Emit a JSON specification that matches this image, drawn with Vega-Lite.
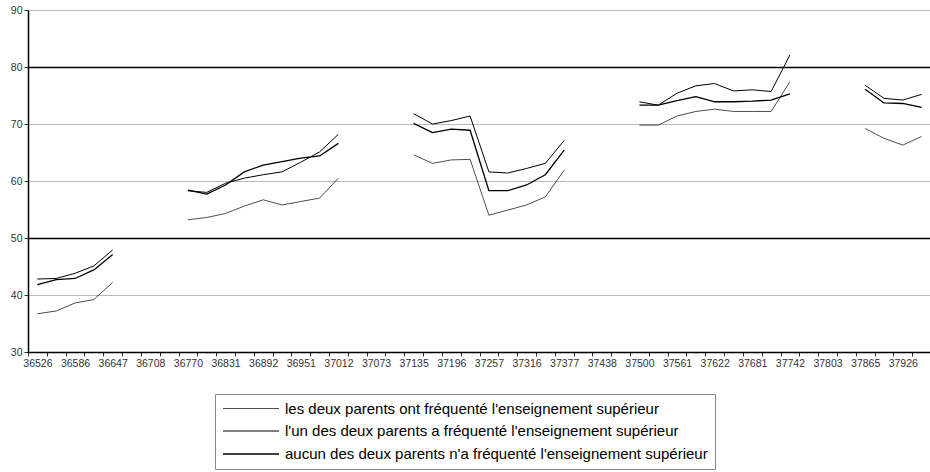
{
  "$schema": "https://vega.github.io/schema/vega-lite/v6.json",
  "width": 903,
  "height": 342,
  "autosize": {"type": "none"},
  "padding": {"left": 28, "top": 10, "right": 0, "bottom": 120},
  "background": "white",
  "config": {"view": {"stroke": null}, "font": "Liberation Sans"},
  "data": {"values": [
    {"mois": "36526", "g": 1, "serie": "les deux parents ont fréquenté l'enseignement supérieur", "v": 36.7},
    {"mois": "36557", "g": 1, "serie": "les deux parents ont fréquenté l'enseignement supérieur", "v": 37.2},
    {"mois": "36586", "g": 1, "serie": "les deux parents ont fréquenté l'enseignement supérieur", "v": 38.6},
    {"mois": "36617", "g": 1, "serie": "les deux parents ont fréquenté l'enseignement supérieur", "v": 39.2},
    {"mois": "36647", "g": 1, "serie": "les deux parents ont fréquenté l'enseignement supérieur", "v": 42.2},
    {"mois": "36770", "g": 2, "serie": "les deux parents ont fréquenté l'enseignement supérieur", "v": 53.2},
    {"mois": "36800", "g": 2, "serie": "les deux parents ont fréquenté l'enseignement supérieur", "v": 53.6},
    {"mois": "36831", "g": 2, "serie": "les deux parents ont fréquenté l'enseignement supérieur", "v": 54.3},
    {"mois": "36861", "g": 2, "serie": "les deux parents ont fréquenté l'enseignement supérieur", "v": 55.6},
    {"mois": "36892", "g": 2, "serie": "les deux parents ont fréquenté l'enseignement supérieur", "v": 56.7},
    {"mois": "36923", "g": 2, "serie": "les deux parents ont fréquenté l'enseignement supérieur", "v": 55.8},
    {"mois": "36951", "g": 2, "serie": "les deux parents ont fréquenté l'enseignement supérieur", "v": 56.4},
    {"mois": "36982", "g": 2, "serie": "les deux parents ont fréquenté l'enseignement supérieur", "v": 57.0},
    {"mois": "37012", "g": 2, "serie": "les deux parents ont fréquenté l'enseignement supérieur", "v": 60.5},
    {"mois": "37135", "g": 3, "serie": "les deux parents ont fréquenté l'enseignement supérieur", "v": 64.6},
    {"mois": "37165", "g": 3, "serie": "les deux parents ont fréquenté l'enseignement supérieur", "v": 63.1},
    {"mois": "37196", "g": 3, "serie": "les deux parents ont fréquenté l'enseignement supérieur", "v": 63.7},
    {"mois": "37226", "g": 3, "serie": "les deux parents ont fréquenté l'enseignement supérieur", "v": 63.8},
    {"mois": "37257", "g": 3, "serie": "les deux parents ont fréquenté l'enseignement supérieur", "v": 54.0},
    {"mois": "37288", "g": 3, "serie": "les deux parents ont fréquenté l'enseignement supérieur", "v": 54.9},
    {"mois": "37316", "g": 3, "serie": "les deux parents ont fréquenté l'enseignement supérieur", "v": 55.8},
    {"mois": "37347", "g": 3, "serie": "les deux parents ont fréquenté l'enseignement supérieur", "v": 57.2},
    {"mois": "37377", "g": 3, "serie": "les deux parents ont fréquenté l'enseignement supérieur", "v": 61.9},
    {"mois": "37500", "g": 4, "serie": "les deux parents ont fréquenté l'enseignement supérieur", "v": 69.8},
    {"mois": "37530", "g": 4, "serie": "les deux parents ont fréquenté l'enseignement supérieur", "v": 69.8},
    {"mois": "37561", "g": 4, "serie": "les deux parents ont fréquenté l'enseignement supérieur", "v": 71.4},
    {"mois": "37591", "g": 4, "serie": "les deux parents ont fréquenté l'enseignement supérieur", "v": 72.2},
    {"mois": "37622", "g": 4, "serie": "les deux parents ont fréquenté l'enseignement supérieur", "v": 72.6},
    {"mois": "37653", "g": 4, "serie": "les deux parents ont fréquenté l'enseignement supérieur", "v": 72.2},
    {"mois": "37681", "g": 4, "serie": "les deux parents ont fréquenté l'enseignement supérieur", "v": 72.2},
    {"mois": "37712", "g": 4, "serie": "les deux parents ont fréquenté l'enseignement supérieur", "v": 72.2},
    {"mois": "37742", "g": 4, "serie": "les deux parents ont fréquenté l'enseignement supérieur", "v": 77.4},
    {"mois": "37865", "g": 5, "serie": "les deux parents ont fréquenté l'enseignement supérieur", "v": 69.2},
    {"mois": "37895", "g": 5, "serie": "les deux parents ont fréquenté l'enseignement supérieur", "v": 67.5},
    {"mois": "37926", "g": 5, "serie": "les deux parents ont fréquenté l'enseignement supérieur", "v": 66.3},
    {"mois": "37956", "g": 5, "serie": "les deux parents ont fréquenté l'enseignement supérieur", "v": 67.8},
    {"mois": "36526", "g": 1, "serie": "l'un des deux parents a fréquenté l'enseignement supérieur", "v": 42.8},
    {"mois": "36557", "g": 1, "serie": "l'un des deux parents a fréquenté l'enseignement supérieur", "v": 42.9},
    {"mois": "36586", "g": 1, "serie": "l'un des deux parents a fréquenté l'enseignement supérieur", "v": 43.8},
    {"mois": "36617", "g": 1, "serie": "l'un des deux parents a fréquenté l'enseignement supérieur", "v": 45.1},
    {"mois": "36647", "g": 1, "serie": "l'un des deux parents a fréquenté l'enseignement supérieur", "v": 47.9},
    {"mois": "36770", "g": 2, "serie": "l'un des deux parents a fréquenté l'enseignement supérieur", "v": 58.3},
    {"mois": "36800", "g": 2, "serie": "l'un des deux parents a fréquenté l'enseignement supérieur", "v": 58.0},
    {"mois": "36831", "g": 2, "serie": "l'un des deux parents a fréquenté l'enseignement supérieur", "v": 59.6},
    {"mois": "36861", "g": 2, "serie": "l'un des deux parents a fréquenté l'enseignement supérieur", "v": 60.5},
    {"mois": "36892", "g": 2, "serie": "l'un des deux parents a fréquenté l'enseignement supérieur", "v": 61.1},
    {"mois": "36923", "g": 2, "serie": "l'un des deux parents a fréquenté l'enseignement supérieur", "v": 61.6},
    {"mois": "36951", "g": 2, "serie": "l'un des deux parents a fréquenté l'enseignement supérieur", "v": 63.3},
    {"mois": "36982", "g": 2, "serie": "l'un des deux parents a fréquenté l'enseignement supérieur", "v": 65.1},
    {"mois": "37012", "g": 2, "serie": "l'un des deux parents a fréquenté l'enseignement supérieur", "v": 68.2},
    {"mois": "37135", "g": 3, "serie": "l'un des deux parents a fréquenté l'enseignement supérieur", "v": 71.8},
    {"mois": "37165", "g": 3, "serie": "l'un des deux parents a fréquenté l'enseignement supérieur", "v": 70.0},
    {"mois": "37196", "g": 3, "serie": "l'un des deux parents a fréquenté l'enseignement supérieur", "v": 70.6},
    {"mois": "37226", "g": 3, "serie": "l'un des deux parents a fréquenté l'enseignement supérieur", "v": 71.4},
    {"mois": "37257", "g": 3, "serie": "l'un des deux parents a fréquenté l'enseignement supérieur", "v": 61.6},
    {"mois": "37288", "g": 3, "serie": "l'un des deux parents a fréquenté l'enseignement supérieur", "v": 61.4},
    {"mois": "37316", "g": 3, "serie": "l'un des deux parents a fréquenté l'enseignement supérieur", "v": 62.2},
    {"mois": "37347", "g": 3, "serie": "l'un des deux parents a fréquenté l'enseignement supérieur", "v": 63.1},
    {"mois": "37377", "g": 3, "serie": "l'un des deux parents a fréquenté l'enseignement supérieur", "v": 67.1},
    {"mois": "37500", "g": 4, "serie": "l'un des deux parents a fréquenté l'enseignement supérieur", "v": 73.9},
    {"mois": "37530", "g": 4, "serie": "l'un des deux parents a fréquenté l'enseignement supérieur", "v": 73.3},
    {"mois": "37561", "g": 4, "serie": "l'un des deux parents a fréquenté l'enseignement supérieur", "v": 75.4},
    {"mois": "37591", "g": 4, "serie": "l'un des deux parents a fréquenté l'enseignement supérieur", "v": 76.7},
    {"mois": "37622", "g": 4, "serie": "l'un des deux parents a fréquenté l'enseignement supérieur", "v": 77.1},
    {"mois": "37653", "g": 4, "serie": "l'un des deux parents a fréquenté l'enseignement supérieur", "v": 75.8},
    {"mois": "37681", "g": 4, "serie": "l'un des deux parents a fréquenté l'enseignement supérieur", "v": 76.0},
    {"mois": "37712", "g": 4, "serie": "l'un des deux parents a fréquenté l'enseignement supérieur", "v": 75.7},
    {"mois": "37742", "g": 4, "serie": "l'un des deux parents a fréquenté l'enseignement supérieur", "v": 82.1},
    {"mois": "37865", "g": 5, "serie": "l'un des deux parents a fréquenté l'enseignement supérieur", "v": 76.8},
    {"mois": "37895", "g": 5, "serie": "l'un des deux parents a fréquenté l'enseignement supérieur", "v": 74.5},
    {"mois": "37926", "g": 5, "serie": "l'un des deux parents a fréquenté l'enseignement supérieur", "v": 74.2},
    {"mois": "37956", "g": 5, "serie": "l'un des deux parents a fréquenté l'enseignement supérieur", "v": 75.2},
    {"mois": "36526", "g": 1, "serie": "aucun des deux parents n'a fréquenté l'enseignement supérieur", "v": 41.8},
    {"mois": "36557", "g": 1, "serie": "aucun des deux parents n'a fréquenté l'enseignement supérieur", "v": 42.7},
    {"mois": "36586", "g": 1, "serie": "aucun des deux parents n'a fréquenté l'enseignement supérieur", "v": 42.9},
    {"mois": "36617", "g": 1, "serie": "aucun des deux parents n'a fréquenté l'enseignement supérieur", "v": 44.4},
    {"mois": "36647", "g": 1, "serie": "aucun des deux parents n'a fréquenté l'enseignement supérieur", "v": 47.1},
    {"mois": "36770", "g": 2, "serie": "aucun des deux parents n'a fréquenté l'enseignement supérieur", "v": 58.4},
    {"mois": "36800", "g": 2, "serie": "aucun des deux parents n'a fréquenté l'enseignement supérieur", "v": 57.7},
    {"mois": "36831", "g": 2, "serie": "aucun des deux parents n'a fréquenté l'enseignement supérieur", "v": 59.3},
    {"mois": "36861", "g": 2, "serie": "aucun des deux parents n'a fréquenté l'enseignement supérieur", "v": 61.6},
    {"mois": "36892", "g": 2, "serie": "aucun des deux parents n'a fréquenté l'enseignement supérieur", "v": 62.8},
    {"mois": "36923", "g": 2, "serie": "aucun des deux parents n'a fréquenté l'enseignement supérieur", "v": 63.4},
    {"mois": "36951", "g": 2, "serie": "aucun des deux parents n'a fréquenté l'enseignement supérieur", "v": 64.0},
    {"mois": "36982", "g": 2, "serie": "aucun des deux parents n'a fréquenté l'enseignement supérieur", "v": 64.4},
    {"mois": "37012", "g": 2, "serie": "aucun des deux parents n'a fréquenté l'enseignement supérieur", "v": 66.6},
    {"mois": "37135", "g": 3, "serie": "aucun des deux parents n'a fréquenté l'enseignement supérieur", "v": 70.1},
    {"mois": "37165", "g": 3, "serie": "aucun des deux parents n'a fréquenté l'enseignement supérieur", "v": 68.5},
    {"mois": "37196", "g": 3, "serie": "aucun des deux parents n'a fréquenté l'enseignement supérieur", "v": 69.1},
    {"mois": "37226", "g": 3, "serie": "aucun des deux parents n'a fréquenté l'enseignement supérieur", "v": 68.9},
    {"mois": "37257", "g": 3, "serie": "aucun des deux parents n'a fréquenté l'enseignement supérieur", "v": 58.3},
    {"mois": "37288", "g": 3, "serie": "aucun des deux parents n'a fréquenté l'enseignement supérieur", "v": 58.3},
    {"mois": "37316", "g": 3, "serie": "aucun des deux parents n'a fréquenté l'enseignement supérieur", "v": 59.3},
    {"mois": "37347", "g": 3, "serie": "aucun des deux parents n'a fréquenté l'enseignement supérieur", "v": 61.1},
    {"mois": "37377", "g": 3, "serie": "aucun des deux parents n'a fréquenté l'enseignement supérieur", "v": 65.4},
    {"mois": "37500", "g": 4, "serie": "aucun des deux parents n'a fréquenté l'enseignement supérieur", "v": 73.3},
    {"mois": "37530", "g": 4, "serie": "aucun des deux parents n'a fréquenté l'enseignement supérieur", "v": 73.3},
    {"mois": "37561", "g": 4, "serie": "aucun des deux parents n'a fréquenté l'enseignement supérieur", "v": 74.1},
    {"mois": "37591", "g": 4, "serie": "aucun des deux parents n'a fréquenté l'enseignement supérieur", "v": 74.8},
    {"mois": "37622", "g": 4, "serie": "aucun des deux parents n'a fréquenté l'enseignement supérieur", "v": 73.9},
    {"mois": "37653", "g": 4, "serie": "aucun des deux parents n'a fréquenté l'enseignement supérieur", "v": 73.9},
    {"mois": "37681", "g": 4, "serie": "aucun des deux parents n'a fréquenté l'enseignement supérieur", "v": 74.0},
    {"mois": "37712", "g": 4, "serie": "aucun des deux parents n'a fréquenté l'enseignement supérieur", "v": 74.2},
    {"mois": "37742", "g": 4, "serie": "aucun des deux parents n'a fréquenté l'enseignement supérieur", "v": 75.3},
    {"mois": "37865", "g": 5, "serie": "aucun des deux parents n'a fréquenté l'enseignement supérieur", "v": 76.1},
    {"mois": "37895", "g": 5, "serie": "aucun des deux parents n'a fréquenté l'enseignement supérieur", "v": 73.7},
    {"mois": "37926", "g": 5, "serie": "aucun des deux parents n'a fréquenté l'enseignement supérieur", "v": 73.6},
    {"mois": "37956", "g": 5, "serie": "aucun des deux parents n'a fréquenté l'enseignement supérieur", "v": 72.9}
  ]},
  "mark": {"type": "line", "color": "black", "strokeJoin": "round"},
  "encoding": {
    "x": {
      "field": "mois",
      "type": "ordinal",
      "scale": {
        "type": "band",
        "paddingInner": 0,
        "paddingOuter": 0,
        "domain": ["36526","36557","36586","36617","36647","36678","36708","36739","36770","36800","36831","36861","36892","36923","36951","36982","37012","37043","37073","37104","37135","37165","37196","37226","37257","37288","37316","37347","37377","37408","37438","37469","37500","37530","37561","37591","37622","37653","37681","37712","37742","37773","37803","37834","37865","37895","37926","37956"]
      },
      "axis": {
        "title": null,
        "labelAngle": 0,
        "tickBand": "extent",
        "grid": false,
        "labelOverlap": false,
        "labelExpr": "indexof(['36526','36586','36647','36708','36770','36831','36892','36951','37012','37073','37135','37196','37257','37316','37377','37438','37500','37561','37622','37681','37742','37803','37865','37926'], datum.label) >= 0 ? datum.label : ''",
        "domainColor": "black",
        "domainWidth": 1.5,
        "tickColor": "#333",
        "tickSize": 4,
        "labelFontSize": 10.5,
        "labelColor": "#333",
        "labelPadding": 2
      }
    },
    "y": {
      "field": "v",
      "type": "quantitative",
      "scale": {"domain": [30, 90], "nice": false, "zero": false},
      "axis": {
        "title": null,
        "values": [30, 40, 50, 60, 70, 80, 90],
        "grid": true,
        "gridColor": {"condition": {"test": "datum.value == 50 || datum.value == 80", "value": "black"}, "value": "#b8b8b8"},
        "gridWidth": {"condition": {"test": "datum.value == 50 || datum.value == 80", "value": 1.3}, "value": 1.2},
        "domainColor": "black",
        "domainWidth": 1.5,
        "tickColor": "#333",
        "tickSize": 4,
        "labelFontSize": 10.5,
        "labelColor": "#333",
        "labelPadding": 2
      }
    },
    "strokeWidth": {
      "field": "serie",
      "type": "nominal",
      "scale": {
        "domain": ["les deux parents ont fréquenté l'enseignement supérieur", "l'un des deux parents a fréquenté l'enseignement supérieur", "aucun des deux parents n'a fréquenté l'enseignement supérieur"],
        "range": [0.7, 1.3, 3]
      },
      "legend": {
        "title": null,
        "orient": "none",
        "legendX": 187,
        "legendY": 384,
        "symbolType": "M-1,0H7",
        "symbolSize": 196,
        "symbolStrokeColor": "black",
        "symbolFillColor": "transparent",
        "labelFontSize": 15,
        "labelColor": "black",
        "labelOffset": 47,
        "rowPadding": 6.5,
        "padding": 7,
        "strokeColor": "#888",
        "fillColor": "white",
        "labelLimit": 600
      }
    },
    "detail": {"field": "g"}
  }
}
